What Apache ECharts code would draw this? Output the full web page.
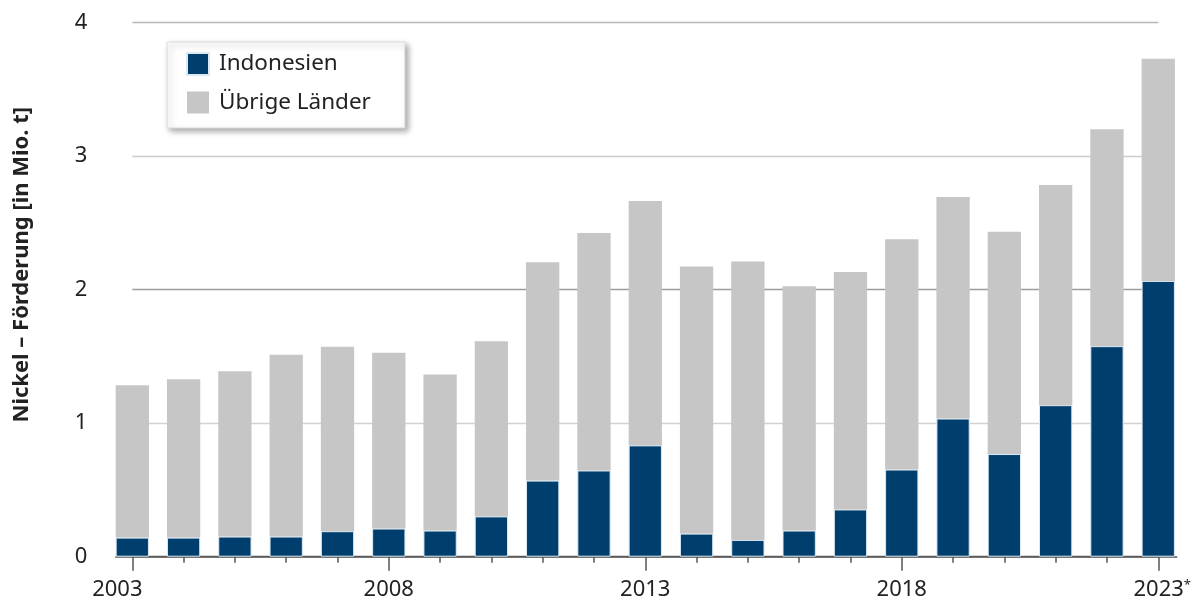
<!DOCTYPE html>
<html>
<head>
<meta charset="utf-8">
<script src="https://cdn.jsdelivr.net/npm/echarts@6/dist/echarts.min.js"></script>
<style>
html,body{margin:0;padding:0;background:#fff;}
#c{width:1194px;height:605px;}
</style>
</head>
<body>
<div id="c"></div>
<script>
var years = ['2003','2004','2005','2006','2007','2008','2009','2010','2011','2012','2013','2014','2015','2016','2017','2018','2019','2020','2021','2022','2023'];
var indonesien = [0.143,0.143,0.151,0.151,0.191,0.211,0.196,0.302,0.570,0.646,0.834,0.173,0.126,0.196,0.354,0.653,1.035,0.769,1.135,1.577,2.066];
var uebrige = [1.141,1.186,1.238,1.362,1.382,1.317,1.168,1.311,1.636,1.779,1.830,2.000,2.085,1.830,1.779,1.725,1.659,1.666,1.649,1.625,1.664];
var yTicks = [0,1,2,3,4];
var seriesNames = ['Indonesien','Übrige Länder'];

var FONT = '"Noto Sans", "Open Sans", sans-serif';
var chart = echarts.init(document.getElementById('c'));
chart.setOption({
  animation: false,
  textStyle: {fontFamily: FONT, color: '#222'},
  legend: {
    orient: 'vertical',
    left: 167, top: 42,
    padding: [10, 34, 14, 19],
    itemWidth: 22, itemHeight: 22, itemGap: 15,
    icon: 'rect',
    backgroundColor: '#fff',
    borderColor: '#dcdcdc', borderWidth: 1,
    shadowColor: 'rgba(0,0,0,0.35)', shadowBlur: 6, shadowOffsetX: 3, shadowOffsetY: 3,
    textStyle: {fontFamily: FONT, fontSize: 22.5, color: '#222', padding: [0,0,0,5]},
    data: seriesNames
  },
  grid: [
    {left: 132.3, right: 35, top: 22.7, bottom: 48.3},
    {left: 115.7, right: 17.3, top: 22.7, bottom: 48.3}
  ],
  xAxis: [
    {
      type: 'category', gridIndex: 0, data: years, boundaryGap: false, position: 'bottom',
      axisLine: {show: false},
      axisTick: {show: true, interval: 0, length: 6, lineStyle: {color: '#555', width: 1.5}},
      axisLabel: {show: false},
      splitLine: {show: false}
    },
    {
      type: 'category', gridIndex: 0, data: years, boundaryGap: false, position: 'bottom', offset: 0,
      axisLine: {show: false},
      axisTick: {show: true, interval: 4, length: 14, lineStyle: {color: '#555', width: 1.5}},
      axisLabel: {
        interval: 4, margin: 22, fontSize: 22, color: '#222', fontFamily: FONT,
        formatter: function (v, i) {
          if (i === 0) return '{f|' + v + '}';
          if (i === years.length - 1) return '{l|' + v + '}{s|*}';
          return v;
        },
        rich: {
          f: {fontSize: 22, fontFamily: FONT, color: '#222', padding: [0, 30, 0, 0]},
          l: {fontSize: 22, fontFamily: FONT, color: '#222', padding: [0, 0, 0, 8]},
          s: {fontSize: 13, fontFamily: FONT, color: '#222', padding: [0, 0, 10, 0]}
        }
      },
      splitLine: {show: false}
    },
    {
      type: 'value', gridIndex: 1, min: 0, max: 1,
      axisLine: {show: true, onZero: false, lineStyle: {color: '#555', width: 1.5}},
      axisTick: {show: false}, axisLabel: {show: false}, splitLine: {show: false}
    }
  ],
  yAxis: [
    {
      type: 'value', gridIndex: 0, min: yTicks[0], max: yTicks[yTicks.length - 1], interval: 1,
      name: 'Nickel – Förderung [in Mio. t]',
      nameLocation: 'middle', nameRotate: 90, nameGap: 100,
      nameTextStyle: {fontFamily: FONT, fontSize: 22, fontWeight: 'bold', color: '#222', padding: [0, 0, 0, 50]},
      axisLine: {show: false}, axisTick: {show: false},
      axisLabel: {margin: 45, fontSize: 22, color: '#222', fontFamily: FONT},
      splitLine: {show: true, lineStyle: {color: ['#666', '#d2d2d2', '#9c9c9c', '#cdcdcd', '#b8b8b8'], width: 1.3}}
    },
    {type: 'value', gridIndex: 1, show: false, min: 0, max: 1}
  ],
  series: [
    {
      name: seriesNames[0], type: 'bar', stack: 'total', xAxisIndex: 0, yAxisIndex: 0,
      data: indonesien, barWidth: 33.3, clip: false,
      itemStyle: {color: '#003f6d', borderColor: '#dce9f3', borderWidth: 1}
    },
    {
      name: seriesNames[1], type: 'bar', stack: 'total', xAxisIndex: 0, yAxisIndex: 0,
      data: uebrige, barWidth: 33.3, clip: false,
      itemStyle: {color: '#c6c6c6'}
    }
  ]
});
</script>
</body>
</html>
